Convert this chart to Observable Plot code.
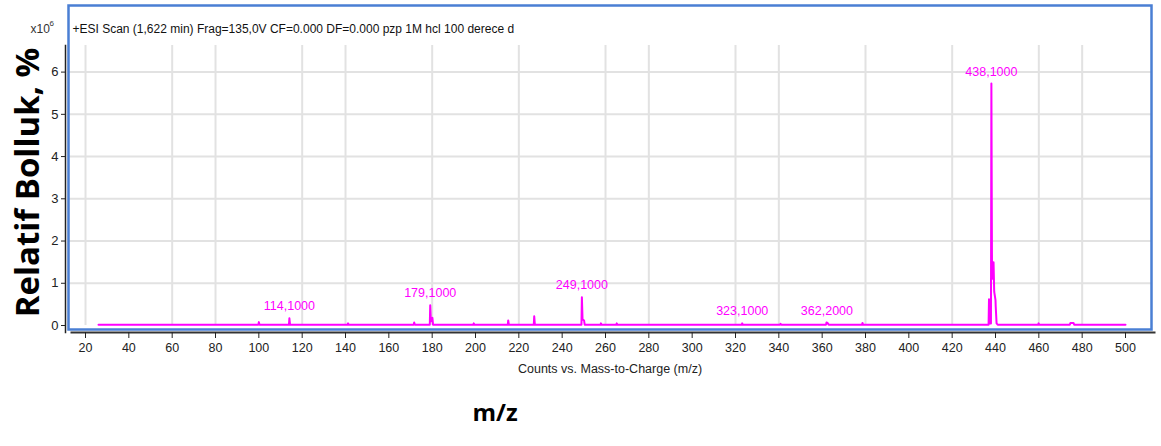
<!DOCTYPE html>
<html>
<head>
<meta charset="utf-8">
<script src="https://cdn.jsdelivr.net/npm/d3@7"></script>
<script src="https://cdn.jsdelivr.net/npm/@observablehq/plot@0.6"></script>
<style>
  html, body { margin: 0; padding: 0; background: #fff; }
  #chart svg { display: block; }
</style>
</head>
<body>
<div id="chart"></div>
<script>
// ---- data ----
const title = "+ESI Scan (1,622 min) Frag=135,0V CF=0.000 DF=0.000 pzp 1M hcl 100 derece d";
const xAxisTitle = "Counts vs. Mass-to-Charge (m/z)";
const yAxisTitle = "Relatif Bolluk, %";
const bottomTitle = "m/z";
const scaleNote = "x10";
const scaleExp = "6";

const xTicks = [20, 40, 60, 80, 100, 120, 140, 160, 180, 200, 220, 240, 260, 280, 300, 320, 340, 360, 380, 400, 420, 440, 460, 480, 500];
const xGrid = [20, 60, 80, 120, 140, 180, 220, 260, 280, 320, 340, 380, 420, 460, 480];
const yTicks = [0, 1, 2, 3, 4, 5, 6];
const yGrid = [1, 2, 3, 4, 5, 6];

// spectrum profile (m/z, abundance x10^6)
const mz = [
  26,
  99.8, 100.0, 100.3,
  113.9, 114.1, 114.4,
  141.0, 141.2, 141.5,
  171.5, 171.7, 172.0,
  178.9, 179.1, 179.4, 180.1, 180.4,
  199.0, 199.2, 199.5,
  214.9, 215.1, 215.4,
  226.9, 227.1, 227.4,
  248.9, 249.1, 249.4, 250.1, 250.4,
  257.7, 257.9, 258.2,
  265.0, 265.2, 265.5,
  322.9, 323.1, 323.4,
  340.6, 340.8, 341.1,
  361.8, 362.0, 362.5, 363.0,
  378.4, 378.6, 378.9,
  436.8, 437.0, 437.2, 437.9, 438.1, 438.4, 439.0, 439.1, 439.4, 440.0, 440.1, 440.5, 441.0,
  459.7, 459.9, 460.2,
  474.3, 474.6, 476.0, 476.3,
  500
];
const abundance = [
  0.02,
  0.02, 0.08, 0.02,
  0.02, 0.17, 0.02,
  0.02, 0.05, 0.02,
  0.02, 0.07, 0.02,
  0.02, 0.48, 0.10, 0.18, 0.02,
  0.02, 0.05, 0.02,
  0.02, 0.12, 0.02,
  0.02, 0.22, 0.02,
  0.02, 0.67, 0.15, 0.12, 0.02,
  0.02, 0.05, 0.02,
  0.02, 0.05, 0.02,
  0.02, 0.05, 0.02,
  0.02, 0.04, 0.02,
  0.02, 0.07, 0.06, 0.02,
  0.02, 0.06, 0.02,
  0.02, 0.62, 0.05, 0.05, 5.73, 1.10, 1.15, 1.50, 0.80, 0.60, 0.45, 0.05, 0.02,
  0.02, 0.05, 0.02,
  0.02, 0.06, 0.06, 0.02,
  0.02
];

// peak annotations
const labelMz = [114.1, 179.1, 249.1, 323.1, 362.2, 438.1];
const labelAbundance = [0.17, 0.48, 0.67, 0.05, 0.07, 5.73];
const labelText = ["114,1000", "179,1000", "249,1000", "323,1000", "362,2000", "438,1000"];

// ---- chart ----
const sans = "'Liberation Sans', Arial, sans-serif";
const magenta = "#ff00ff";
const frameBlue = "#4a7fd4";

const chart = Plot.plot({
  width: 1161,
  height: 446,
  marginLeft: 68,
  marginRight: 10,
  marginTop: 45,
  marginBottom: 121,
  style: { fontFamily: sans, fontSize: "12px", color: "#222", background: "#fff" },
  x: { domain: [12.15, 512], axis: null },
  y: { domain: [0, 6.63], axis: null },
  marks: [
    // grid
    Plot.ruleY(yGrid, { stroke: "#e2e2e2", strokeWidth: 2 }),
    Plot.ruleX(xGrid, { stroke: "#e2e2e2", strokeWidth: 2 }),
    // blue outer frame
    Plot.frame({ stroke: frameBlue, strokeWidth: 2.5, insetTop: -40, insetBottom: -4 }),
    // black axis lines
    Plot.frame({ anchor: "left", dx: -3, insetBottom: -7, stroke: "#222", strokeWidth: 1.5 }),
    Plot.frame({ anchor: "bottom", dy: 7, insetLeft: 3, insetRight: -3, stroke: "#333", strokeWidth: 2 }),
    // axes
    Plot.axisY(yTicks, { tickSize: 4, dx: -3, tickPadding: 3, fontSize: 13, stroke: "#222", tickFormat: d => String(d) }),
    Plot.axisX(xTicks, { tickSize: 6, dy: 7, tickPadding: 5, fontSize: 12.5, stroke: "#222", tickFormat: d => String(d) }),
    // spectrum
    Plot.line({ length: mz.length }, { x: mz, y: abundance, stroke: magenta, strokeWidth: 2 }),
    // peak labels
    Plot.text(labelText, { x: labelMz, y: labelAbundance, text: d => d, dy: -12, fill: magenta, fontSize: 12.5 }),
    // titles
    Plot.text([title], { frameAnchor: "top-left", dx: 4, dy: -21, textAnchor: "start", fontSize: 12, fill: "#111" }),
    Plot.text([scaleNote], { frameAnchor: "top-left", dx: -38, dy: -21, textAnchor: "start", fontSize: 12, fill: "#333" }),
    Plot.text([scaleExp], { frameAnchor: "top-left", dx: -19, dy: -25, textAnchor: "start", fontSize: 8, fill: "#333" }),
    Plot.text([xAxisTitle], { frameAnchor: "bottom", dy: 47, fontSize: 12.5, fill: "#222" }),
    Plot.text([yAxisTitle], { frameAnchor: "left", dx: -40, dy: -3, rotate: -90, textAnchor: "middle", fontSize: 33, fontWeight: "bold", fontFamily: "'Open Sans', sans-serif", fill: "#000" }),
    Plot.text([bottomTitle], { frameAnchor: "bottom-left", dx: 404, dy: 95, fontSize: 24, fontWeight: "bold", fontFamily: "'Open Sans', sans-serif", fill: "#000" })
  ]
});

document.getElementById("chart").appendChild(chart);
</script>
</body>
</html>
